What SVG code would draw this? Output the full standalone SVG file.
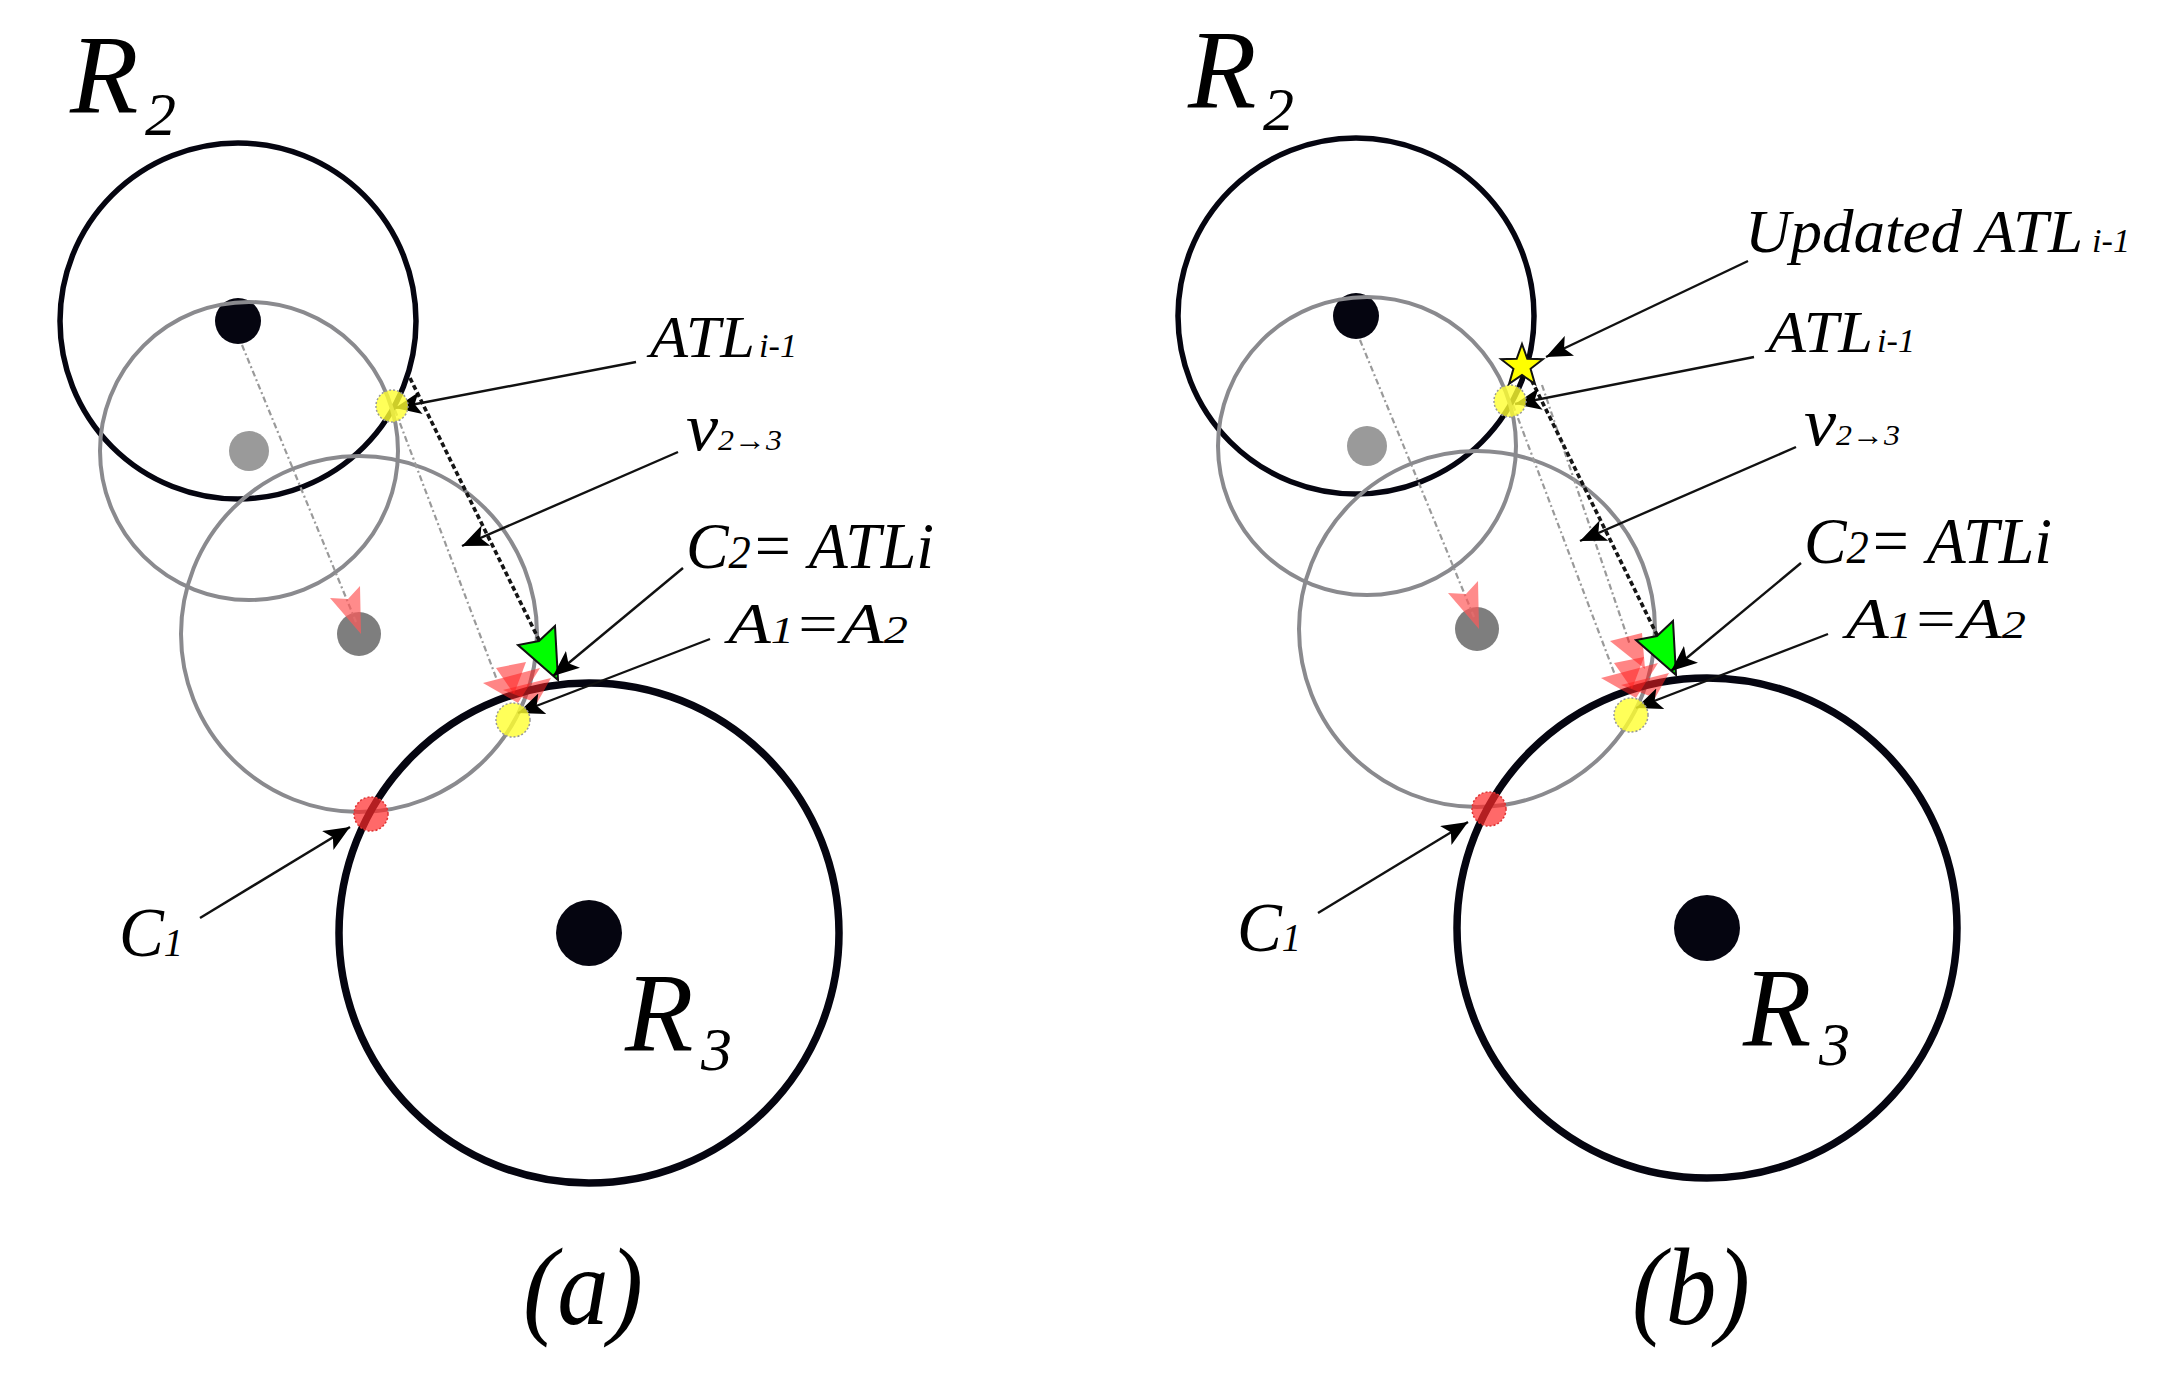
<svg xmlns="http://www.w3.org/2000/svg" width="2177" height="1389" viewBox="0 0 2177 1389">
<style>
.bk{fill:none;stroke:#050510;stroke-width:5.5}
.bk3{fill:none;stroke:#050510;stroke-width:7.5}
.gr{fill:none;stroke:#8a8a8e;stroke-width:4}
.dotb{fill:#050510}
.dotg1{fill:#9a9a9a}
.dotg2{fill:#7e7e7e}
.lite{fill:none;stroke:#9a9a9a;stroke-width:2.2;stroke-dasharray:6 3 2 3}
.thick{fill:none;stroke:#151515;stroke-width:3.6;stroke-dasharray:5 3}
.lead{fill:none;stroke:#111;stroke-width:2.4;marker-end:url(#ah)}
.yel{fill:#ffff30;fill-opacity:0.8;stroke:#999;stroke-width:1.5;stroke-dasharray:2 2}
.redpt{fill:#ff2a2a;fill-opacity:0.7;stroke:#d33;stroke-width:1.5;stroke-dasharray:2 2}
.redah{fill:#ff2020;fill-opacity:0.55}
.pink{fill:#ff5a5a;fill-opacity:0.7}
.green{fill:#00ff00;stroke:#111;stroke-width:2;stroke-linejoin:miter}
.star{fill:#ffff00;stroke:#111;stroke-width:2}
text{font-family:"Liberation Serif","Times New Roman",serif;font-style:italic;fill:#000}
</style>
<defs>
<marker id="ah" viewBox="0 0 26 22" refX="26" refY="11" markerWidth="26" markerHeight="22" markerUnits="userSpaceOnUse" orient="auto">
<path d="M26,11 L0,0 L6,11 L0,22 Z" fill="#000"/>
</marker>
</defs>

<g id="panel-a">
  <g id="a-R2"><circle class="bk" cx="238" cy="321" r="178"/><circle class="dotb" cx="238" cy="321" r="23"/></g>
  <g id="a-G1"><circle class="gr" cx="249" cy="451" r="149"/><circle class="dotg1" cx="249" cy="451" r="20"/></g>
  <g id="a-G2"><circle class="gr" cx="359" cy="634" r="178"/><circle class="dotg2" cx="359" cy="634" r="22"/></g>
  <g id="a-R3"><circle class="bk3" cx="589" cy="933" r="250"/><circle class="dotb" cx="589" cy="933" r="33"/></g>
  <g id="a-connectors">
    <line class="lite" x1="242" y1="345" x2="356" y2="622"/>
    <polygon class="pink" points="361,634 330,598 348,599 360,586"/>
    <line class="lite" x1="395" y1="410" x2="497" y2="680"/>
    <line class="thick" x1="410" y1="378" x2="540" y2="642"/>
    <polygon class="redah" points="483,683 540,668 518,703"/>
    <polygon class="redah" points="503,690 551,678 537,703"/>
    <polygon class="redah" points="496,668 526,662 514,694"/>
    <polygon class="green" points="558,680 518,645 539,641 555,626"/>
    <line class="lead" x1="636" y1="362" x2="395" y2="408"/>
    <line class="lead" x1="678" y1="452" x2="462" y2="546"/>
    <line class="lead" x1="683" y1="568" x2="553" y2="676"/>
    <line class="lead" x1="710" y1="639" x2="518" y2="713"/>
    <line class="lead" x1="200" y1="918" x2="350" y2="827"/>
  </g>
  <g id="a-points">
    <circle class="yel" cx="392" cy="406" r="16"/>
    <circle class="yel" cx="513" cy="720" r="17"/>
    <circle class="redpt" cx="371" cy="814" r="17"/>
  </g>
  <g id="a-labels">
    <text x="70" y="112" font-size="112">R<tspan x="145" y="135" font-size="62">2</tspan></text>
    <text x="625" y="1050" font-size="112">R<tspan x="701" y="1070" font-size="62">3</tspan></text>
    <text x="650" y="357" font-size="60" textLength="105" lengthAdjust="spacingAndGlyphs">ATL</text>
    <text x="759" y="357" font-size="34" textLength="38" lengthAdjust="spacingAndGlyphs">i-1</text>
    <text x="686" y="450" font-size="68" textLength="96" lengthAdjust="spacingAndGlyphs">v<tspan font-size="30">2→3</tspan></text>
    <text x="686" y="568" font-size="66" textLength="248" lengthAdjust="spacingAndGlyphs">C<tspan font-size="46">2</tspan>= ATLi</text>
    <text x="728" y="643" font-size="58" textLength="180" lengthAdjust="spacingAndGlyphs">A<tspan font-size="38">1</tspan>=A<tspan font-size="40">2</tspan></text>
    <text x="119" y="956" font-size="70" textLength="64" lengthAdjust="spacingAndGlyphs">C<tspan font-size="40">1</tspan></text>
    <text x="523" y="1324" font-size="110" textLength="120" lengthAdjust="spacingAndGlyphs">(a)</text>
  </g>
</g>

<g id="panel-b" transform="translate(1118,-5)">
  <g id="b-R2"><circle class="bk" cx="238" cy="321" r="178"/><circle class="dotb" cx="238" cy="321" r="23"/></g>
  <g id="b-G1"><circle class="gr" cx="249" cy="451" r="149"/><circle class="dotg1" cx="249" cy="451" r="20"/></g>
  <g id="b-G2"><circle class="gr" cx="359" cy="634" r="178"/><circle class="dotg2" cx="359" cy="634" r="22"/></g>
  <g id="b-R3"><circle class="bk3" cx="589" cy="933" r="250"/><circle class="dotb" cx="589" cy="933" r="33"/></g>
  <g id="b-connectors">
    <line class="lite" x1="242" y1="345" x2="356" y2="622"/>
    <polygon class="pink" points="361,634 330,598 348,599 360,586"/>
    <line class="lite" x1="395" y1="410" x2="497" y2="680"/>
    <line class="lite" x1="424" y1="390" x2="512" y2="650"/>
    <line class="thick" x1="410" y1="378" x2="540" y2="642"/>
    <polygon class="redah" points="492,646 524,638 527,674"/>
    <polygon class="redah" points="483,683 540,668 518,703"/>
    <polygon class="redah" points="503,690 551,678 537,703"/>
    <polygon class="redah" points="496,668 526,662 514,694"/>
    <polygon class="green" points="558,680 518,645 539,641 555,626"/>
    <line class="lead" x1="630" y1="266" x2="428" y2="362"/>
    <line class="lead" x1="636" y1="362" x2="397" y2="409"/>
    <line class="lead" x1="678" y1="452" x2="462" y2="546"/>
    <line class="lead" x1="683" y1="568" x2="553" y2="676"/>
    <line class="lead" x1="710" y1="639" x2="518" y2="713"/>
    <line class="lead" x1="200" y1="918" x2="350" y2="827"/>
  </g>
  <g id="b-points">
    <circle class="yel" cx="392" cy="406" r="16"/>
    <circle class="yel" cx="513" cy="720" r="17"/>
    <circle class="redpt" cx="371" cy="814" r="17"/>
    <polygon class="star" transform="translate(404,371)" points="0,-22 5.29,-7.28 20.92,-6.8 8.56,2.78 12.93,17.8 0,9 -12.93,17.8 -8.56,2.78 -20.92,-6.8 -5.29,-7.28"/>
  </g>
  <g id="b-labels">
    <text x="70" y="112" font-size="112">R<tspan x="145" y="135" font-size="62">2</tspan></text>
    <text x="625" y="1050" font-size="112">R<tspan x="701" y="1070" font-size="62">3</tspan></text>
    <text x="627" y="257" font-size="62" textLength="338" lengthAdjust="spacingAndGlyphs">Updated ATL</text>
    <text x="974" y="257" font-size="34" textLength="38" lengthAdjust="spacingAndGlyphs">i-1</text>
    <text x="650" y="357" font-size="60" textLength="105" lengthAdjust="spacingAndGlyphs">ATL</text>
    <text x="759" y="357" font-size="34" textLength="38" lengthAdjust="spacingAndGlyphs">i-1</text>
    <text x="686" y="450" font-size="68" textLength="96" lengthAdjust="spacingAndGlyphs">v<tspan font-size="30">2→3</tspan></text>
    <text x="686" y="568" font-size="66" textLength="248" lengthAdjust="spacingAndGlyphs">C<tspan font-size="46">2</tspan>= ATLi</text>
    <text x="728" y="643" font-size="58" textLength="180" lengthAdjust="spacingAndGlyphs">A<tspan font-size="38">1</tspan>=A<tspan font-size="40">2</tspan></text>
    <text x="119" y="956" font-size="70" textLength="64" lengthAdjust="spacingAndGlyphs">C<tspan font-size="40">1</tspan></text>
    <text x="514" y="1329" font-size="110" textLength="118" lengthAdjust="spacingAndGlyphs">(b)</text>
  </g>
</g>
</svg>
